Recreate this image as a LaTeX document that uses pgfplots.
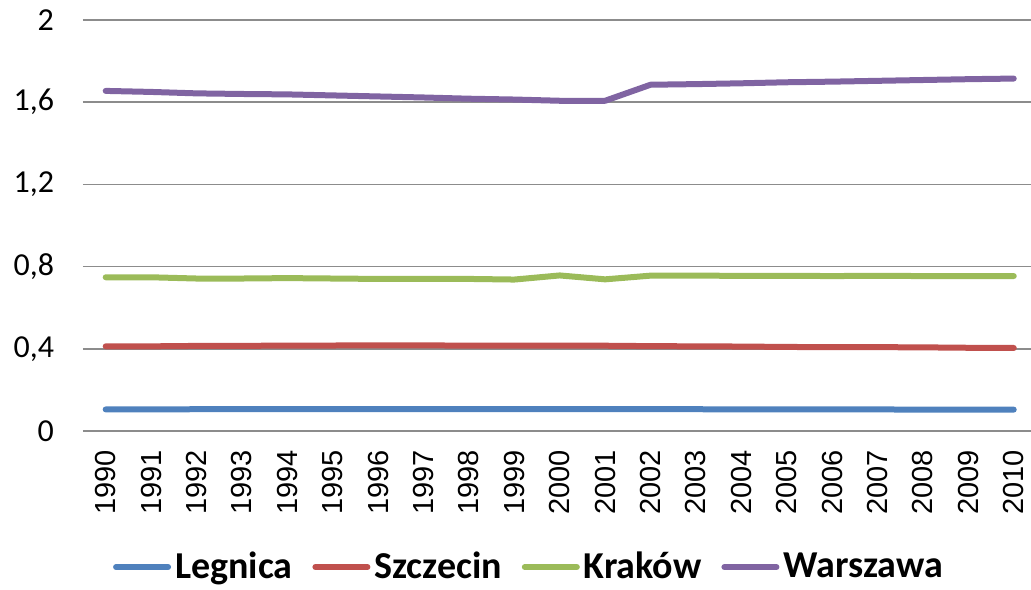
\documentclass[border=0pt]{standalone}
\usepackage{fontspec}
\setmainfont{Carlito}
\newfontfamily\xfont{Liberation Sans}
\usepackage{pgfplots}
\pgfplotsset{compat=1.18}
\definecolor{cLeg}{HTML}{4F81BD}
\definecolor{cSzc}{HTML}{C0504D}
\definecolor{cKra}{HTML}{9BBB59}
\definecolor{cWar}{HTML}{8064A2}
\definecolor{gridgray}{HTML}{8C8C8C}

\begin{document}
\begin{tikzpicture}
\useasboundingbox (-41.5bp,-79.5bp) rectangle (474bp,215.5bp);
\begin{axis}[
    at={(0,0)}, anchor=south west,
    scale only axis,
    width=474bp, height=205.5bp,
    xmin=-0.5, xmax=20.38,
    ymin=0, ymax=2,
    xtick={0,...,20},
    xticklabels={1990,1991,1992,1993,1994,1995,1996,1997,1998,1999,2000,2001,2002,2003,2004,2005,2006,2007,2008,2009,2010},
    x tick label style={font=\xfont\fontsize{14.5bp}{16bp}\selectfont, rotate=90, anchor=east, xshift=-6bp},
    ytick={0,0.4,0.8,1.2,1.6,2},
    yticklabel={\pgfmathprintnumber[use comma,fixed,precision=1]{\tick}},
    y tick label style={font=\fontsize{16bp}{18bp}\selectfont, anchor=east, xshift=-11bp},
    /pgf/number format/assume math mode=true,
    ymajorgrids,
    grid style={gridgray, line width=0.8bp},
    axis line style={draw=none},
    tick style={draw=none},
    clip=false,
    every axis plot/.append style={line width=3bp, line cap=round, line join=round},
    legend style={at={(0.4715,-0.331)}, anchor=center, draw=none, legend columns=4,
        font=\bfseries\fontsize{19bp}{21bp}\selectfont,
        /tikz/every even column/.append style={column sep=8bp}},
    legend image code/.code={\draw[#1, line cap=round] (0bp,0bp) -- (26bp,0bp);},
]
\addplot[cLeg] coordinates {
(0,0.105) (1,0.105) (2,0.106) (3,0.106) (4,0.106) (5,0.106) (6,0.106)
(7,0.107) (8,0.107) (9,0.107) (10,0.106) (11,0.107) (12,0.106) (13,0.106)
(14,0.105) (15,0.105) (16,0.105) (17,0.105) (18,0.104) (19,0.104) (20,0.104)};
\addplot[cSzc] coordinates {
(0,0.412) (1,0.412) (2,0.414) (3,0.414) (4,0.416) (5,0.416) (6,0.417)
(7,0.417) (8,0.415) (9,0.415) (10,0.415) (11,0.415) (12,0.413) (13,0.412)
(14,0.411) (15,0.409) (16,0.408) (17,0.408) (18,0.407) (19,0.405) (20,0.404)};
\addplot[cKra] coordinates {
(0,0.748) (1,0.748) (2,0.742) (3,0.742) (4,0.744) (5,0.742) (6,0.740)
(7,0.740) (8,0.740) (9,0.737) (10,0.757) (11,0.738) (12,0.756) (13,0.756)
(14,0.755) (15,0.755) (16,0.754) (17,0.755) (18,0.754) (19,0.754) (20,0.754)};
\addplot[cWar] coordinates {
(0,1.655) (1,1.650) (2,1.643) (3,1.640) (4,1.638) (5,1.633) (6,1.628)
(7,1.623) (8,1.617) (9,1.613) (10,1.607) (11,1.607) (12,1.685) (13,1.688)
(14,1.692) (15,1.697) (16,1.700) (17,1.704) (18,1.708) (19,1.712) (20,1.715)};
\legend{Legnica,Szczecin,Kraków,Warszawa}
\end{axis}
\end{tikzpicture}
\end{document}
